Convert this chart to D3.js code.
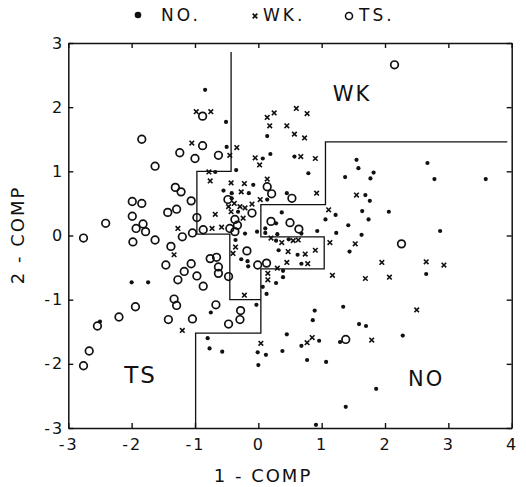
<html>
<head>
    <script src="https://cdnjs.cloudflare.com/ajax/libs/d3/7.8.5/d3.min.js"></script>
    <style>
        body { margin: 0; background: #fff; }
        text { font-family: "DejaVu Sans", "Liberation Sans", sans-serif; fill: #111; }
    </style>
</head>
<body>
    <script>
        // values (1-COMP, 2-COMP)
        var noPoints = [
            [-0.84, 2.27], [-0.51, 1.77], [-0.50, 1.38], [0.07, 1.20], [0.19, 1.27], [0.14, 1.55], [0.57, 1.23],
            [1.55, 1.18], [1.58, 1.05], [2.67, 1.13],
            [1.37, 0.91], [1.82, 0.98], [1.77, 0.89], [2.78, 0.88], [3.59, 0.88], [1.69, 0.63], [1.76, 0.54],
            [1.64, 0.38], [2.06, 0.37], [1.74, 0.25], [1.42, 0.16], [1.63, 0.01], [2.87, 0.07], [1.44, -0.25],
            [2.65, -0.60],
            [1.34, -1.11], [1.59, -1.38], [1.70, -1.41], [2.28, -1.56], [1.29, -1.66], [1.86, -2.39], [1.38, -2.67],
            [0.13, -0.91], [-0.03, -1.08], [-0.75, -1.20], [-0.80, -1.60], [-0.77, -1.76], [-0.57, -1.81],
            [-0.01, -1.82], [0.12, -1.86], [0.00, -2.02], [0.45, -1.54], [0.38, -1.80], [0.68, -1.72],
            [0.96, -1.64], [0.77, -1.94], [1.07, -1.97], [0.89, -1.17], [0.86, -1.32], [0.91, -2.95],
            [-2.50, -1.34], [-2.00, -0.73], [-1.74, -0.73],
            [-0.68, 0.99], [-0.35, 1.02], [-0.08, 0.79], [0.79, 0.97], [-0.55, 0.70], [-0.42, 0.66], [-0.15, 0.66],
            [0.45, 0.66], [-0.42, 0.58], [0.14, 0.56], [-0.32, 0.37], [-0.21, 0.03], [-0.02, 0.06], [0.11, 0.11],
            [0.11, 0.04], [0.37, 0.36], [0.28, 0.19], [0.68, 0.03], [0.30, 0.02], [0.28, -0.08], [0.48, -0.06],
            [0.93, 0.07], [1.23, 0.04], [1.06, 0.25], [1.22, 0.32], [-0.36, -0.07], [-0.27, -0.37], [-0.17, -0.40],
            [-0.16, -0.48], [0.32, -0.23], [0.62, -0.30], [0.68, -0.44], [0.39, -0.55], [0.39, -0.65],
            [0.28, -0.74], [0.07, -0.80]
        ];

        var wkPoints = [
            [-0.98, 1.93], [-0.75, 1.93], [-1.05, 1.44], [-0.34, 1.37], [-0.45, 1.25], [-0.05, 1.21], [0.14, 1.84],
            [0.25, 1.91], [0.18, 1.71], [0.45, 1.71], [0.60, 1.98], [0.77, 1.90], [0.57, 1.58], [0.73, 1.52],
            [0.67, 1.23], [0.90, 1.20],
            [0.02, 1.10], [-0.78, 0.99], [-0.76, 0.85], [-0.43, 0.82], [-0.22, 0.81], [0.14, 0.88], [-0.27, 0.68],
            [0.92, 0.66], [-0.38, 0.50], [-0.29, 0.45], [-0.21, 0.43], [-0.10, 0.49], [0.03, 0.56], [-0.47, 0.45],
            [-0.43, 0.37], [-0.24, 0.27], [-0.68, 0.33], [-0.73, 0.11], [-0.58, 0.13], [0.20, -0.04], [0.37, -0.11],
            [0.55, -0.08], [0.63, -0.07], [1.13, -0.11], [1.11, 0.40], [1.17, -0.62], [-0.36, -0.18], [-0.40, -0.28],
            [0.47, -0.25], [0.74, -0.29], [0.90, -0.23], [0.45, -0.42], [0.78, -0.44], [0.30, -0.51], [0.15, -0.59],
            [0.15, -0.69], [-0.22, -0.93],
            [1.55, 0.63], [1.53, -0.13], [1.95, -0.42], [2.65, -0.41], [2.93, -0.46], [1.69, -0.67], [2.07, -0.65],
            [2.50, -1.16], [1.79, -1.63], [0.04, -1.68], [0.77, -1.67], [0.85, -1.59],
            [-1.20, -1.48], [-1.27, 0.11], [-1.33, -0.30]
        ];

        var tsPoints = [
            [-1.84, 1.50], [-1.24, 1.29], [-1.63, 1.08], [-0.88, 1.86], [-0.88, 1.40], [-1.00, 1.20], [-0.63, 1.25],
            [2.15, 2.66], [2.26, -0.13], [1.38, -1.62],
            [-0.67, -1.08], [-0.28, -1.17], [-0.29, -1.31], [-0.47, -1.38], [-1.04, -1.30],
            [-2.76, -2.03], [-2.67, -1.80], [-2.54, -1.41], [-2.20, -1.27], [-1.94, -1.11], [-1.42, -1.31],
            [-1.33, -0.99], [-1.29, -1.09],
            [-2.41, 0.19], [-2.76, -0.04], [-1.99, 0.53], [-1.84, 0.50], [-1.99, 0.30], [-1.82, 0.18], [-1.93, 0.11],
            [-1.78, 0.06], [-1.98, -0.10], [-1.63, -0.07], [-1.43, 0.36], [-1.29, 0.41], [-1.31, 0.75], [-1.22, 0.68],
            [-1.06, 0.54], [-1.20, -0.02], [-1.04, 0.04], [-1.38, -0.17], [-1.46, -0.46], [-1.06, -0.44],
            [-1.17, -0.56], [-1.27, -0.69], [-0.97, -0.63],
            [0.14, 0.76], [0.21, 0.65], [0.53, 0.58], [-0.48, 0.56], [-0.10, 0.35], [-0.37, 0.25], [-0.33, 0.16],
            [-0.45, 0.11], [-0.37, 0.06], [-0.87, 0.09], [-0.97, 0.28], [0.20, 0.22], [0.50, 0.20], [0.64, 0.10],
            [-0.18, -0.24], [-0.01, -0.46], [0.13, -0.43], [-0.66, -0.34], [-0.76, -0.36], [-0.63, -0.49],
            [-0.63, -0.59], [-0.47, -0.64], [-0.87, -0.79]
        ];

        // group boundaries
        var tsBoundary = [[-0.43, 2.86], [-0.43, 1.0], [-0.97, 1.0], [-0.97, 0.02], [-0.45, 0.02], [-0.45, -1.0], [0.04, -1.0]];
        var wkBoundary = [[3.93, 1.46], [1.06, 1.46], [1.06, 0.48], [0.04, 0.48], [0.04, -0.02], [1.04, -0.02],
            [1.04, -0.52], [0.04, -0.52], [0.04, -1.52], [-0.99, -1.52], [-0.99, -3]];

        var xTicks = [-3, -2, -1, 0, 1, 2, 3, 4];
        var yTicks = [-3, -2, -1, 0, 1, 2, 3];

        var w = 526, h = 487;

        var x = d3.scaleLinear().domain([-3, 4]).range([68.3, 511.7]);
        var y = d3.scaleLinear().domain([-3, 3]).range([428, 43]);

        var svg = d3.select('body')
            .append('svg')
            .attr('width', w)
            .attr('height', h);

        var fmt = (d) => { return d < 0 ? '-' + Math.abs(d) : '' + d };

        // axes, ticks pointing inward on all four sides
        var gx = svg.append('g')
            .attr('transform', 'translate(0,' + y(-3) + ')')
            .call(d3.axisBottom(x).tickValues(xTicks).tickSizeInner(-5).tickSizeOuter(0).tickPadding(11).tickFormat(fmt));
        var gy = svg.append('g')
            .attr('transform', 'translate(' + x(-3) + ',0)')
            .call(d3.axisLeft(y).tickValues(yTicks).tickSizeInner(-5).tickSizeOuter(0).tickPadding(4).tickFormat(fmt));
        var gt = svg.append('g')
            .attr('transform', 'translate(0,' + y(3) + ')')
            .call(d3.axisTop(x).tickValues(xTicks).tickSizeInner(-5).tickSizeOuter(0).tickFormat(''));
        var gr = svg.append('g')
            .attr('transform', 'translate(' + x(4) + ',0)')
            .call(d3.axisRight(y).tickValues(yTicks).tickSizeInner(-5).tickSizeOuter(0).tickFormat(''));

        [gx, gy, gt, gr].forEach((g) => {
            g.select('.domain').attr('stroke', '#111').attr('stroke-width', 1.5);
            g.selectAll('.tick line').attr('stroke', '#111').attr('stroke-width', 1.4);
        });
        gx.selectAll('.tick text').attr('font-size', 16).attr('letter-spacing', 2).attr('fill', '#111')
            .style('font-family', '"DejaVu Sans", sans-serif');
        gy.selectAll('.tick text').attr('font-size', 16).attr('letter-spacing', 2).attr('fill', '#111')
            .style('font-family', '"DejaVu Sans", sans-serif');

        // boundaries
        var line = d3.line().x((d) => { return x(d[0]) }).y((d) => { return y(d[1]) });
        svg.append('path').attr('d', line(tsBoundary)).attr('fill', 'none').attr('stroke', '#111').attr('stroke-width', 1.3);
        svg.append('path').attr('d', line(wkBoundary)).attr('fill', 'none').attr('stroke', '#111').attr('stroke-width', 1.3);

        // points
        svg.append('g').selectAll('circle')
            .data(noPoints)
            .enter()
            .append('circle')
            .attr('cx', (d) => { return x(d[0]) })
            .attr('cy', (d) => { return y(d[1]) })
            .attr('r', 2.1)
            .attr('fill', '#111');

        svg.append('g').selectAll('circle')
            .data(tsPoints)
            .enter()
            .append('circle')
            .attr('cx', (d) => { return x(d[0]) })
            .attr('cy', (d) => { return y(d[1]) })
            .attr('r', 3.8)
            .attr('fill', 'none')
            .attr('stroke', '#111')
            .attr('stroke-width', 1.7);

        var cross = (d) => {
            var cx = x(d[0]), cy = y(d[1]), s = 2.3;
            return 'M' + (cx - s) + ',' + (cy - s) + 'L' + (cx + s) + ',' + (cy + s) +
                'M' + (cx + s) + ',' + (cy - s) + 'L' + (cx - s) + ',' + (cy + s);
        };
        svg.append('g').selectAll('path')
            .data(wkPoints)
            .enter()
            .append('path')
            .attr('d', cross)
            .attr('stroke', '#111')
            .attr('stroke-width', 1.6);

        // region labels
        svg.append('text').attr('x', x(1.48)).attr('y', y(2.1)).attr('text-anchor', 'middle')
            .attr('font-size', 21).attr('letter-spacing', 2).text('WK');
        svg.append('text').attr('x', x(-1.86)).attr('y', y(-2.3)).attr('text-anchor', 'middle')
            .attr('font-size', 23).attr('letter-spacing', 2).text('TS');
        svg.append('text').attr('x', x(2.65)).attr('y', y(-2.35)).attr('text-anchor', 'middle')
            .attr('font-size', 21).attr('letter-spacing', 2).text('NO');

        // legend
        var legend = svg.append('g').attr('font-size', 17);
        legend.append('circle').attr('cx', 138).attr('cy', 15).attr('r', 3.3).attr('fill', '#111');
        legend.append('text').attr('x', 161).attr('y', 21).attr('letter-spacing', 3).text('NO.');
        legend.append('path').attr('d', cross([x.invert(255), y.invert(16)])).attr('stroke', '#111').attr('stroke-width', 1.8);
        legend.append('text').attr('x', 263).attr('y', 21).attr('letter-spacing', 3).text('WK.');
        legend.append('circle').attr('cx', 349).attr('cy', 16).attr('r', 3.5).attr('fill', 'none').attr('stroke', '#111').attr('stroke-width', 1.6);
        legend.append('text').attr('x', 359).attr('y', 21).attr('letter-spacing', 3).text('TS.');

        // axis titles
        svg.append('text').attr('x', 263).attr('y', 482).attr('text-anchor', 'middle')
            .attr('font-size', 18).attr('letter-spacing', 2).text('1 - COMP');
        svg.append('text').attr('transform', 'translate(24,235) rotate(-90)').attr('text-anchor', 'middle')
            .attr('font-size', 18).attr('letter-spacing', 2).text('2 - COMP');
    </script>
</body>
</html>
